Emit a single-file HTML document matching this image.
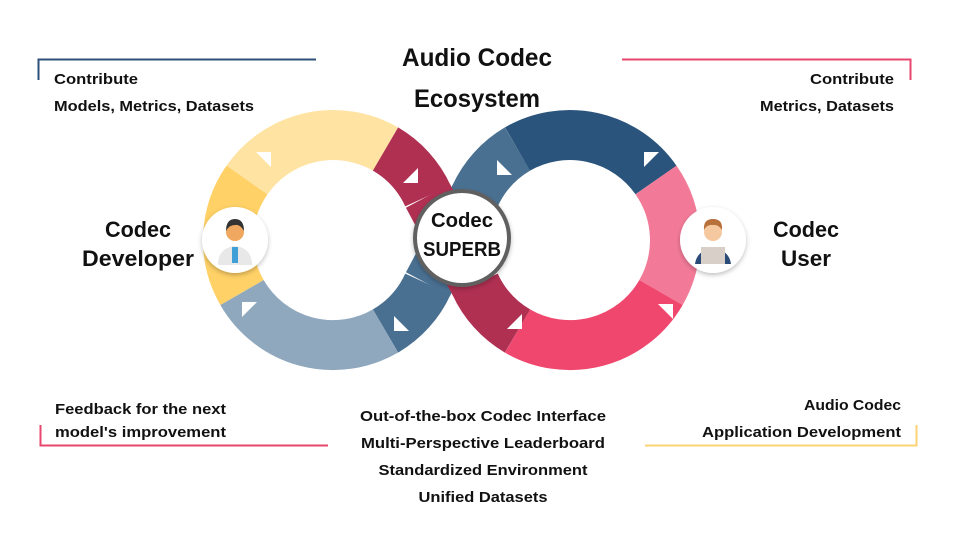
<!DOCTYPE html>
<html><head><meta charset="utf-8"><style>
html,body{margin:0;padding:0;background:#fff}
svg{display:block}
text{font-family:"Liberation Sans",sans-serif;font-weight:bold;fill:#111}
</style></head><body>
<svg width="960" height="540" viewBox="0 0 960 540" xmlns="http://www.w3.org/2000/svg">
<defs>
<filter id="sh" x="-30%" y="-30%" width="160%" height="160%"><feDropShadow dx="0" dy="2" stdDeviation="2.5" flood-color="#000" flood-opacity="0.25"/></filter>
</defs>
<path d="M38.5 80 V59.5 H316" fill="none" stroke="#2c5078" stroke-width="2"/>
<path d="M622 59.5 H910.5 V80" fill="none" stroke="#e8466e" stroke-width="2"/>
<path d="M40.5 425 V445.5 H328" fill="none" stroke="#e8466e" stroke-width="2"/>
<path d="M645 445.5 H916.5 V425" fill="none" stroke="#fbd373" stroke-width="2"/>

<g fill="none" stroke-width="50" stroke-linecap="butt">
<path d="M428 284 L475 196" stroke="#4a7091"/>
<path d="M428 196 L475 284" stroke="#b03052"/>
<path d="M247 180 A105 105 0 0 1 385.5 149" stroke="#ffe3a3"/>
<path d="M385.5 149 A105 105 0 0 1 428 196" stroke="#b03052"/>
<path d="M428 284 A105 105 0 0 1 385.5 331" stroke="#4a7091"/>
<path d="M385.5 331 A105 105 0 0 1 242 292.5" stroke="#8fa8be"/>
<path d="M242 292.5 A105 105 0 0 1 247 180" stroke="#ffd166"/>
<path d="M475 196 A105 105 0 0 1 517.5 149" stroke="#4a7091"/>
<path d="M517.5 149 A105 105 0 0 1 656 180" stroke="#2a547c"/>
<path d="M656 180 A105 105 0 0 1 661 292.5" stroke="#f27a98"/>
<path d="M661 292.5 A105 105 0 0 1 517.5 331" stroke="#f0476e"/>
<path d="M517.5 331 A105 105 0 0 1 475 284" stroke="#b03052"/>
</g>
<g fill="#fff">
<polygon points="256,152 271,152 271,167"/>
<polygon points="418,168 418,183 403,183"/>
<polygon points="242,302 257,302 242,317"/>
<polygon points="394,316 409,331 394,331"/>
<polygon points="497,160 512,175 497,175"/>
<polygon points="644,152 659,152 644,167"/>
<polygon points="658,304 673,304 673,319"/>
<polygon points="522,314 522,329 507,329"/>
</g>

<circle cx="462" cy="238" r="47" fill="#fff" stroke="#606060" stroke-width="4" filter="url(#sh)"/>
<text x="462" y="227" font-size="20" text-anchor="middle" textLength="62" lengthAdjust="spacingAndGlyphs">Codec</text>
<text x="462" y="256" font-size="20" text-anchor="middle" textLength="78" lengthAdjust="spacingAndGlyphs">SUPERB</text>

<circle cx="235" cy="240" r="33" fill="#fff" filter="url(#sh)"/>
<path d="M218 265 Q218 248 235 246 Q252 248 252 265 Z" fill="#e8e8e8"/>
<rect x="232" y="247" width="6" height="16" fill="#3fa0d8"/>
<circle cx="235" cy="232" r="9" fill="#f0a860"/>
<path d="M226 231 Q226 219 235 219 Q244 219 244 231 Q240 224 235 225 Q229 225 226 231Z" fill="#333"/>

<circle cx="713" cy="240" r="33" fill="#fff" filter="url(#sh)"/>
<path d="M695 264 Q697 250 713 248 Q729 250 731 264 Z" fill="#2a4a78"/>
<rect x="701" y="247" width="24" height="17" fill="#d8d0c8"/>
<circle cx="713" cy="232" r="9" fill="#f5c8a0"/>
<path d="M704 230 Q703 219 713 219 Q723 219 722 230 Q718 224 713 225 Q707 224 704 230Z" fill="#b8703a"/>

<text x="477" y="66" font-size="25" text-anchor="middle" textLength="150" lengthAdjust="spacingAndGlyphs">Audio Codec</text>
<text x="477" y="107" font-size="25" text-anchor="middle" textLength="126" lengthAdjust="spacingAndGlyphs">Ecosystem</text>

<text x="138" y="237" font-size="22" text-anchor="middle" textLength="66" lengthAdjust="spacingAndGlyphs">Codec</text>
<text x="138" y="266" font-size="22" text-anchor="middle" textLength="112" lengthAdjust="spacingAndGlyphs">Developer</text>
<text x="806" y="237" font-size="22" text-anchor="middle" textLength="66" lengthAdjust="spacingAndGlyphs">Codec</text>
<text x="806" y="266" font-size="22" text-anchor="middle" textLength="50" lengthAdjust="spacingAndGlyphs">User</text>

<g font-size="15">
<text x="54" y="84" textLength="84" lengthAdjust="spacingAndGlyphs">Contribute</text>
<text x="54" y="111" textLength="200" lengthAdjust="spacingAndGlyphs">Models, Metrics, Datasets</text>
<text x="894" y="84" text-anchor="end" textLength="84" lengthAdjust="spacingAndGlyphs">Contribute</text>
<text x="894" y="111" text-anchor="end" textLength="134" lengthAdjust="spacingAndGlyphs">Metrics, Datasets</text>
<text x="55" y="414" textLength="171" lengthAdjust="spacingAndGlyphs">Feedback for the next</text>
<text x="55" y="437" textLength="171" lengthAdjust="spacingAndGlyphs">model's improvement</text>
<text x="901" y="410" text-anchor="end" textLength="97" lengthAdjust="spacingAndGlyphs">Audio Codec</text>
<text x="901" y="437" text-anchor="end" textLength="199" lengthAdjust="spacingAndGlyphs">Application Development</text>
<text x="483" y="421" text-anchor="middle" textLength="246" lengthAdjust="spacingAndGlyphs">Out-of-the-box Codec Interface</text>
<text x="483" y="448" text-anchor="middle" textLength="244" lengthAdjust="spacingAndGlyphs">Multi-Perspective Leaderboard</text>
<text x="483" y="475" text-anchor="middle" textLength="209" lengthAdjust="spacingAndGlyphs">Standardized Environment</text>
<text x="483" y="502" text-anchor="middle" textLength="129" lengthAdjust="spacingAndGlyphs">Unified Datasets</text>
</g>
</svg>
</body></html>
